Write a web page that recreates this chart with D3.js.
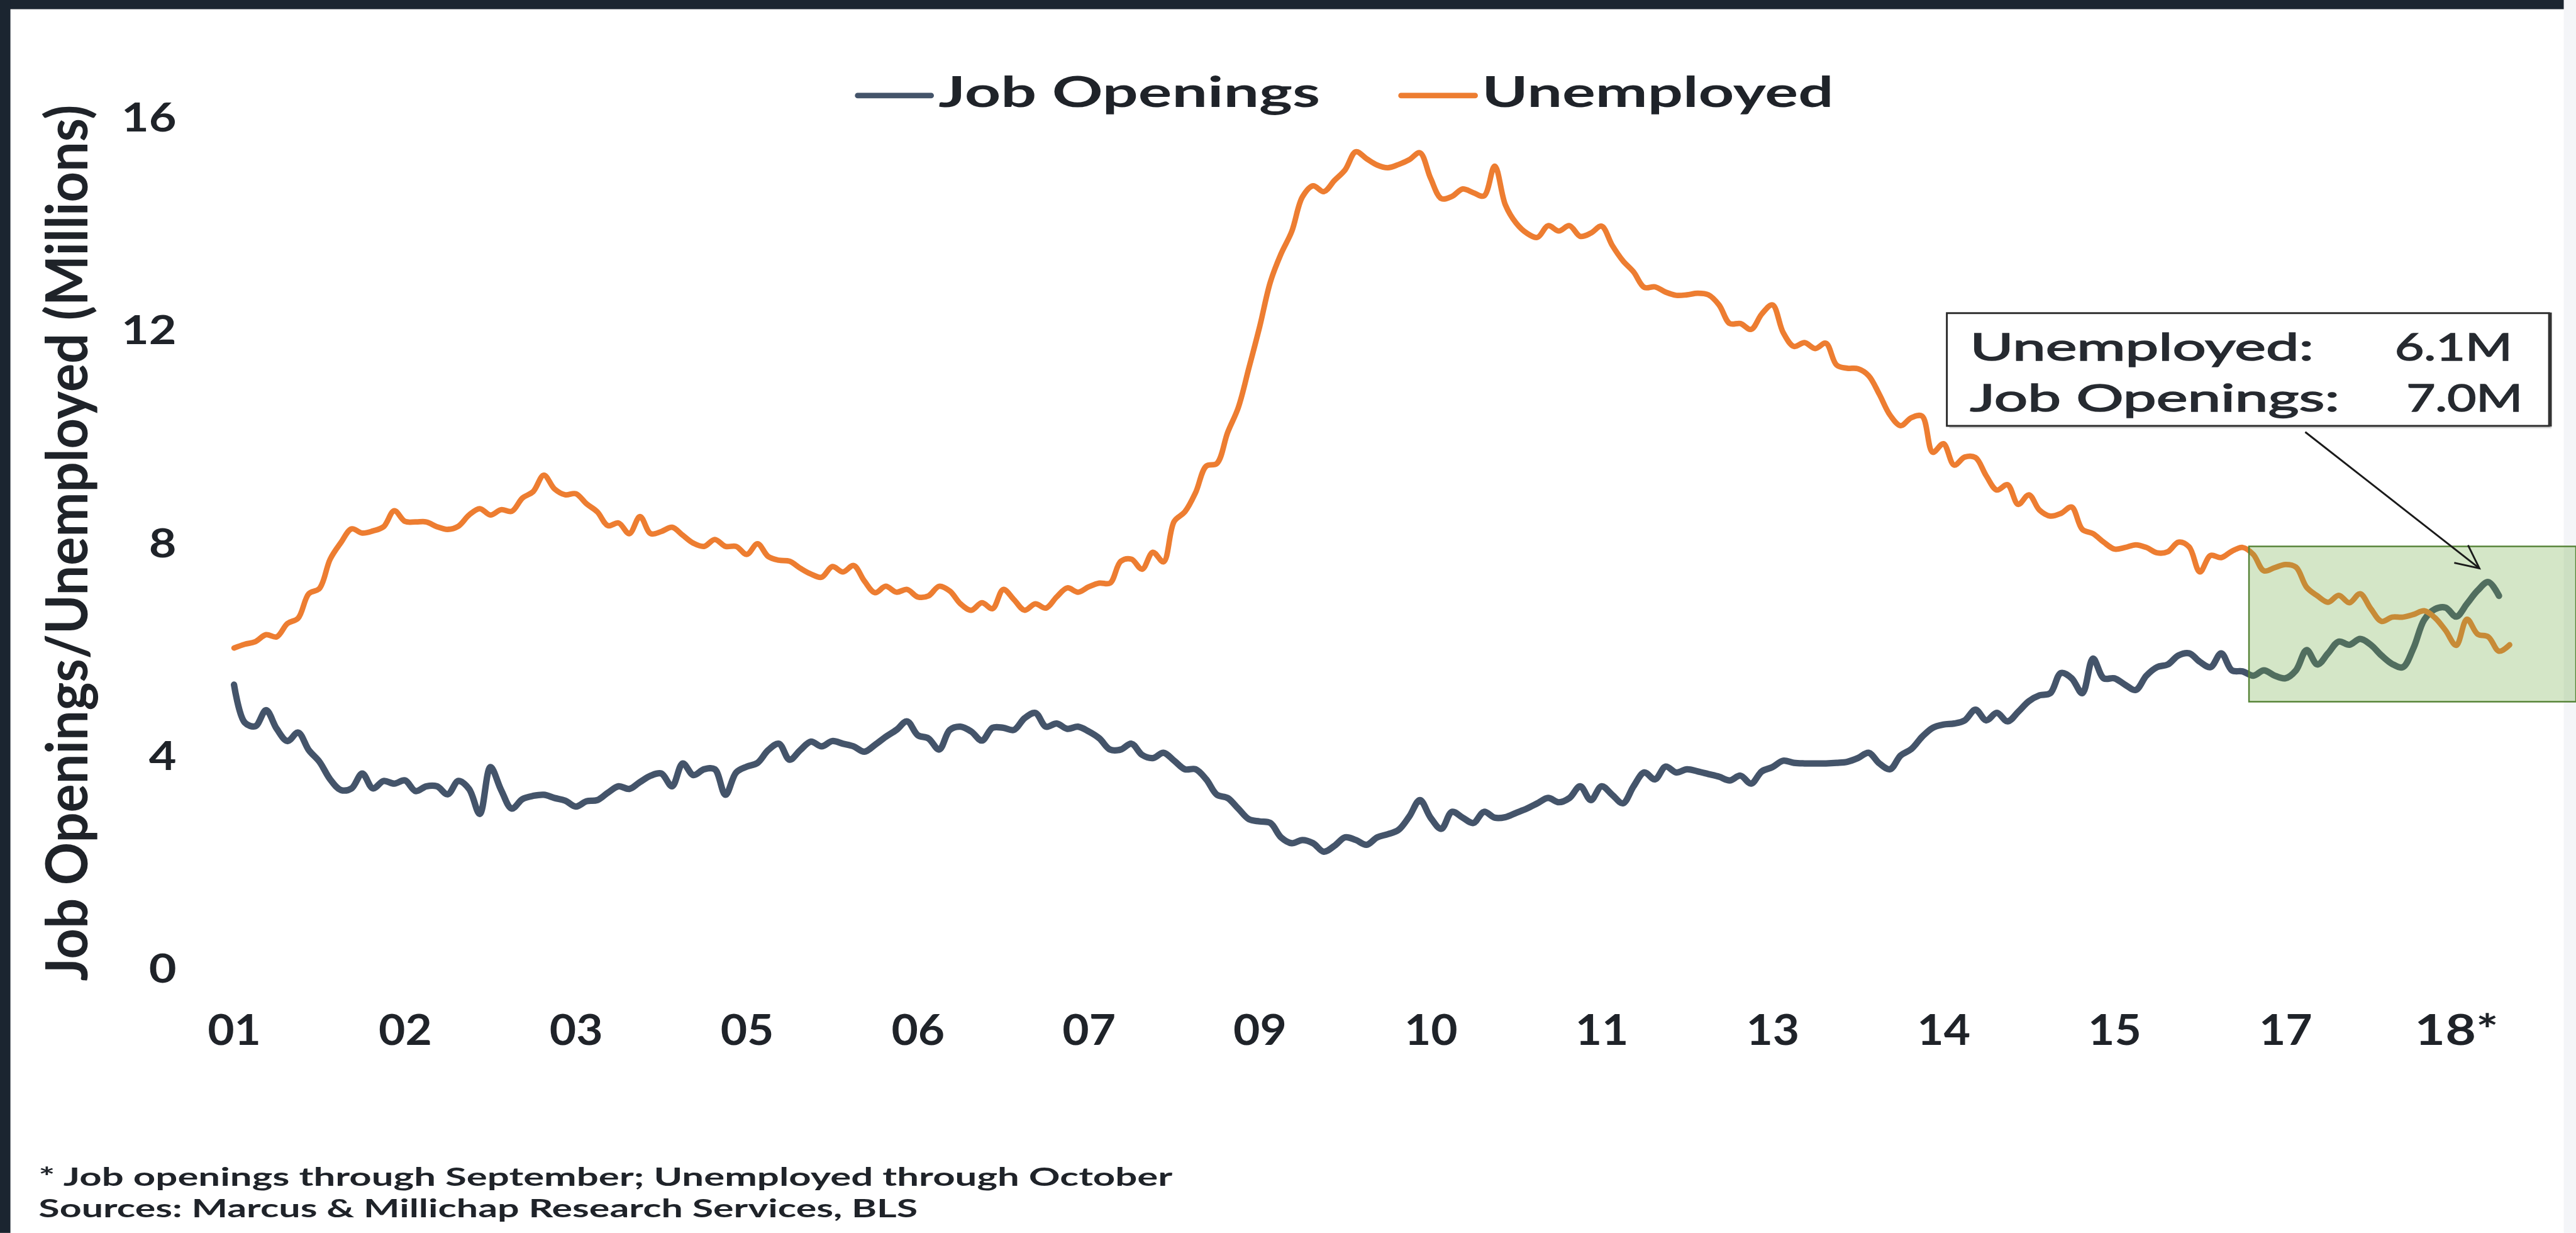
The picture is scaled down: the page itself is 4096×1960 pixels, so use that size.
<!DOCTYPE html>
<html>
<head>
<meta charset="utf-8">
<script src="https://cdn.jsdelivr.net/npm/d3@7"></script>
<style>
  html, body { margin: 0; padding: 0; background: #ffffff; overflow: hidden; }
  svg { display: block; }
</style>
</head>
<body>
<svg id="chart" width="4096" height="1960"></svg>
<script>
// ---- data ---------------------------------------------------------------
// Monthly series starting January 2001, in millions.
const labelEveryMonths = 16;   // category-axis label interval
const xTickLabels = ["01","02","03","05","06","07","09","10","11","13","14","15","17","18*"];
const yTicks = [0, 4, 8, 12, 16];
const seriesNames = ["Job Openings", "Unemployed"];
const seriesColors = ["#44546A", "#ED7D31"];

// Job openings, Jan 2001 - Sep 2018
const jobOpenings = [
  5.33, 4.62, 4.55, 4.85, 4.50, 4.27, 4.43, 4.10, 3.88, 3.55, 3.35, 3.38,
  3.66, 3.38, 3.52, 3.47, 3.53, 3.33, 3.42, 3.42, 3.27, 3.52, 3.37, 2.90,
  3.78, 3.35, 3.00, 3.18, 3.24, 3.26, 3.20, 3.15, 3.04, 3.14, 3.16, 3.30,
  3.42, 3.37, 3.50, 3.62, 3.66, 3.42, 3.85, 3.63, 3.74, 3.74, 3.26, 3.68,
  3.79, 3.86, 4.10, 4.22, 3.92, 4.10, 4.26, 4.17, 4.27, 4.22, 4.17, 4.07,
  4.20, 4.35, 4.48, 4.64, 4.38, 4.32, 4.11, 4.48, 4.54, 4.45, 4.28, 4.52,
  4.52, 4.48, 4.70, 4.80, 4.54, 4.60, 4.50, 4.54, 4.45, 4.32, 4.11, 4.11,
  4.22, 4.01, 3.95, 4.05, 3.90, 3.74, 3.74, 3.55, 3.26, 3.20, 3.00, 2.80,
  2.76, 2.73, 2.46, 2.35, 2.41, 2.35, 2.19, 2.30, 2.46, 2.41, 2.32, 2.46,
  2.52, 2.60, 2.85, 3.16, 2.83, 2.62, 2.94, 2.83, 2.73, 2.94, 2.83, 2.84,
  2.92, 3.00, 3.10, 3.20, 3.12, 3.20, 3.42, 3.16, 3.42, 3.26, 3.10, 3.42,
  3.68, 3.55, 3.79, 3.68, 3.74, 3.70, 3.65, 3.60, 3.53, 3.62, 3.47, 3.70,
  3.78, 3.90, 3.86, 3.85, 3.85, 3.85, 3.86, 3.88, 3.95, 4.05, 3.85, 3.74,
  4.00, 4.12, 4.35, 4.52, 4.58, 4.60, 4.66, 4.86, 4.66, 4.80, 4.64, 4.82,
  5.02, 5.13, 5.17, 5.55, 5.45, 5.17, 5.82, 5.45, 5.45, 5.33, 5.23, 5.50,
  5.66, 5.71, 5.88, 5.92, 5.76, 5.66, 5.92, 5.60, 5.58, 5.50, 5.60, 5.50,
  5.45, 5.60, 5.98, 5.71, 5.92, 6.14, 6.08, 6.19, 6.08, 5.88, 5.72, 5.66,
  6.02, 6.55, 6.75, 6.78, 6.61, 6.85, 7.10, 7.26, 7.00
];

// Unemployed, Jan 2001 - Oct 2018
const unemployed = [
  6.02, 6.09, 6.14, 6.27, 6.23, 6.48, 6.58, 7.04, 7.14, 7.69, 8.00, 8.26,
  8.18, 8.22, 8.30, 8.60, 8.40, 8.39, 8.39, 8.30, 8.25, 8.31, 8.52, 8.64,
  8.52, 8.62, 8.59, 8.84, 8.96, 9.27, 9.01, 8.90, 8.92, 8.73, 8.58, 8.32,
  8.37, 8.17, 8.49, 8.17, 8.21, 8.29, 8.14, 7.99, 7.93, 8.06, 7.93, 7.93,
  7.78, 7.98, 7.74, 7.67, 7.65, 7.52, 7.41, 7.35, 7.55, 7.45, 7.57, 7.28,
  7.06, 7.18, 7.07, 7.12, 6.98, 7.00, 7.18, 7.09, 6.85, 6.73, 6.87, 6.76,
  7.12, 6.93, 6.73, 6.85, 6.77, 6.98, 7.15, 7.07, 7.17, 7.24, 7.24, 7.65,
  7.69, 7.50, 7.82, 7.64, 8.40, 8.58, 8.94, 9.44, 9.49, 10.07, 10.54, 11.29,
  12.06, 12.90, 13.43, 13.85, 14.50, 14.71, 14.60, 14.81, 15.01, 15.35, 15.22, 15.10,
  15.05, 15.11, 15.20, 15.33, 14.85, 14.47, 14.51, 14.65, 14.58, 14.52, 15.08, 14.35,
  14.01, 13.82, 13.74, 13.96, 13.86, 13.96, 13.76, 13.82, 13.95, 13.59, 13.30, 13.09,
  12.80, 12.81, 12.71, 12.65, 12.66, 12.69, 12.66, 12.47, 12.12, 12.12, 12.01, 12.30,
  12.47, 11.95, 11.69, 11.76, 11.65, 11.75, 11.34, 11.28, 11.27, 11.14, 10.79, 10.40,
  10.20, 10.35, 10.38, 9.70, 9.86, 9.46, 9.61, 9.60, 9.26, 8.99, 9.09, 8.72,
  8.90, 8.61, 8.50, 8.55, 8.67, 8.25, 8.17, 8.01, 7.88, 7.91, 7.96, 7.91,
  7.81, 7.83, 8.01, 7.92, 7.45, 7.76, 7.72, 7.84, 7.91, 7.78, 7.47, 7.53,
  7.59, 7.54, 7.16, 7.00, 6.88, 7.01, 6.87, 7.04, 6.76, 6.52, 6.60, 6.60,
  6.65, 6.72, 6.59, 6.35, 6.07, 6.56, 6.28, 6.23, 5.96, 6.08
];

// highlighted window: last two years, between these two levels
const highlightMonths = 24.4;
const highlightRange = [5.01, 7.93];

const calloutLines = [
  { label: "Unemployed:", value: "6.1M" },
  { label: "Job Openings:", value: "7.0M" }
];
const footnotes = [
  "* Job openings through September; Unemployed through October",
  "Sources: Marcus & Millichap Research Services, BLS"
];
const yAxisTitle = "Job Openings/Unemployed (Millions)";

// ---- layout (drawn in a 4205 x 2012 design space, scaled to the window) --
const W = 4205, H = 2012;
const scale = 4096 / W;
const FONT = "Lato, 'Open Sans', 'DejaVu Sans', sans-serif";
const INK = "#1f2329";

const svg = d3.select("#chart");
const root = svg.append("g").attr("transform", `scale(${scale})`);

// page + dark frame
root.append("rect").attr("x", 0).attr("y", 0).attr("width", W).attr("height", H).attr("fill", "#ffffff");
root.append("rect").attr("x", W - 20).attr("y", 0).attr("width", 20).attr("height", H).attr("fill", "#f4f5f8");
root.append("rect").attr("x", 0).attr("y", 0).attr("width", W - 20).attr("height", 15).attr("fill", "#1b2530");
root.append("rect").attr("x", 0).attr("y", 0).attr("width", 17).attr("height", H).attr("fill", "#1b2530");

// scales
const nMonths = unemployed.length;
const x = d3.scaleLinear().domain([0, nMonths - 1]).range([382, 382 + (nMonths - 1) * 17.44]);
const y = d3.scaleLinear().domain([0, 16]).range([1580, 191.2]);

// y axis
const yAxis = d3.axisLeft(y).tickValues(yTicks).tickSize(0).tickPadding(0).tickFormat(d3.format("d"));
const gy = root.append("g").attr("transform", "translate(288,0)").call(yAxis);
gy.select(".domain").remove();
gy.selectAll("text")
  .attr("x", 0)
  .attr("dy", null)
  .attr("y", 23)
  .attr("fill", INK)
  .attr("font-family", FONT)
  .attr("font-weight", 700)
  .attr("font-size", 64)
  .attr("text-anchor", "end")
  .attr("textLength", d => String(d).length * 45)
  .attr("lengthAdjust", "spacingAndGlyphs");

// x axis (category labels every 16 months)
const xTickValues = xTickLabels.map((_, i) => i * labelEveryMonths);
const xAxis = d3.axisBottom(x).tickValues(xTickValues).tickSize(0).tickPadding(0)
  .tickFormat((d, i) => xTickLabels[i]);
const gx = root.append("g").attr("transform", "translate(0,1705)").call(xAxis);
gx.select(".domain").remove();
gx.selectAll("text")
  .attr("y", 0)
  .attr("dy", null)
  .attr("fill", INK)
  .attr("font-family", FONT)
  .attr("font-weight", 700)
  .attr("font-size", 68)
  .attr("text-anchor", "middle")
  .attr("textLength", (d, i) => xTickLabels[i].length === 3 ? 137 : 87)
  .attr("lengthAdjust", "spacingAndGlyphs");

// y axis title
root.append("text")
  .attr("transform", "translate(143,886) rotate(-90)")
  .attr("text-anchor", "middle")
  .attr("fill", INK)
  .attr("font-family", FONT)
  .attr("font-weight", 700)
  .attr("font-size", 94)
  .attr("textLength", 1430)
  .attr("lengthAdjust", "spacingAndGlyphs")
  .text(yAxisTitle);

// series lines (smoothed)
const line = d3.line().curve(d3.curveCatmullRom.alpha(0.5)).x((d, i) => x(i)).y(d => y(d));
const series = [
  { name: seriesNames[0], values: jobOpenings, color: seriesColors[0], width: 10.5 },
  { name: seriesNames[1], values: unemployed, color: seriesColors[1], width: 9 }
];
root.append("g").selectAll("path").data(series).join("path")
  .attr("d", d => line(d.values))
  .attr("fill", "none")
  .attr("stroke", d => d.color)
  .attr("stroke-width", d => d.width)
  .attr("stroke-linejoin", "round")
  .attr("stroke-linecap", "round");

// legend
const legendItems = [
  { name: seriesNames[0], color: seriesColors[0], x0: 1400, x1: 1520, tx: 1532, tw: 623 },
  { name: seriesNames[1], color: seriesColors[1], x0: 2287, x1: 2408, tx: 2419, tw: 574 }
];
const lg = root.append("g");
legendItems.forEach(it => {
  lg.append("line").attr("x1", it.x0).attr("x2", it.x1).attr("y1", 156).attr("y2", 156)
    .attr("stroke", it.color).attr("stroke-width", 9).attr("stroke-linecap", "round");
  lg.append("text").attr("x", it.tx).attr("y", 175)
    .attr("fill", INK).attr("font-family", FONT).attr("font-weight", 700).attr("font-size", 68)
    .attr("textLength", it.tw).attr("lengthAdjust", "spacingAndGlyphs")
    .text(it.name);
});

// highlighted recent period (overlay drawn on top of the lines)
const lastMonth = nMonths - 1;
const hx = x(lastMonth - highlightMonths);
root.append("rect")
  .attr("x", hx)
  .attr("y", y(highlightRange[1]))
  .attr("width", W - hx)
  .attr("height", y(highlightRange[0]) - y(highlightRange[1]))
  .attr("fill", "#70AD47")
  .attr("fill-opacity", 0.3)
  .attr("stroke", "#548235")
  .attr("stroke-width", 2.5);

// callout box
const box = { x: 3178, y: 511, w: 983, h: 184 };
root.append("rect").attr("x", box.x + 4).attr("y", box.y + 4).attr("width", box.w).attr("height", box.h)
  .attr("fill", "#8a8a8a").attr("opacity", 0.35);
root.append("rect").attr("x", box.x).attr("y", box.y).attr("width", box.w).attr("height", box.h)
  .attr("fill", "#ffffff").attr("stroke", "#2b2b2b").attr("stroke-width", 3);
root.append("line").attr("x1", box.x + box.w + 2).attr("x2", box.x + box.w + 2)
  .attr("y1", box.y - 1).attr("y2", box.y + box.h + 1)
  .attr("stroke", "#333333").attr("stroke-width", 5);
const calloutLayout = [
  { baseline: 588, lw: 561, vx: 3909, vw: 192 },
  { baseline: 671, lw: 603, vx: 3928, vw: 190 }
];
calloutLines.forEach((c, i) => {
  const L = calloutLayout[i];
  [[3216, L.lw, c.label], [L.vx, L.vw, c.value]].forEach(([tx, tw, t]) => {
    root.append("text").attr("x", tx).attr("y", L.baseline)
      .attr("fill", "#262a30").attr("stroke", "#262a30").attr("stroke-width", 1.6)
      .attr("font-family", FONT).attr("font-weight", 400).attr("font-size", 62)
      .attr("textLength", tw).attr("lengthAdjust", "spacingAndGlyphs").text(t);
  });
});

// arrow from the callout to the latest job openings value
const ax0 = 3763, ay0 = 705;
const ax1 = x(jobOpenings.length - 1) - 32, ay1 = y(jobOpenings[jobOpenings.length - 1]) - 45;
root.append("line").attr("x1", ax0).attr("y1", ay0).attr("x2", ax1).attr("y2", ay1)
  .attr("stroke", "#1a1a1a").attr("stroke-width", 3);
const ang = Math.atan2(ay1 - ay0, ax1 - ax0);
const headLen = 42, spread = 0.45;
const head = [
  [ax1 - headLen * Math.cos(ang - spread), ay1 - headLen * Math.sin(ang - spread)],
  [ax1, ay1],
  [ax1 - headLen * Math.cos(ang + spread), ay1 - headLen * Math.sin(ang + spread)]
];
root.append("path").attr("d", d3.line()(head))
  .attr("fill", "none").attr("stroke", "#1a1a1a").attr("stroke-width", 3).attr("stroke-linejoin", "miter");

// footnotes
const footLayout = [
  { y: 1935, w: 1851 },
  { y: 1987, w: 1435 }
];
footnotes.forEach((t, i) => {
  root.append("text").attr("x", 63).attr("y", footLayout[i].y)
    .attr("fill", INK).attr("font-family", FONT).attr("font-weight", 700).attr("font-size", 42)
    .attr("textLength", footLayout[i].w).attr("lengthAdjust", "spacingAndGlyphs").text(t);
});
</script>
</body>
</html>
